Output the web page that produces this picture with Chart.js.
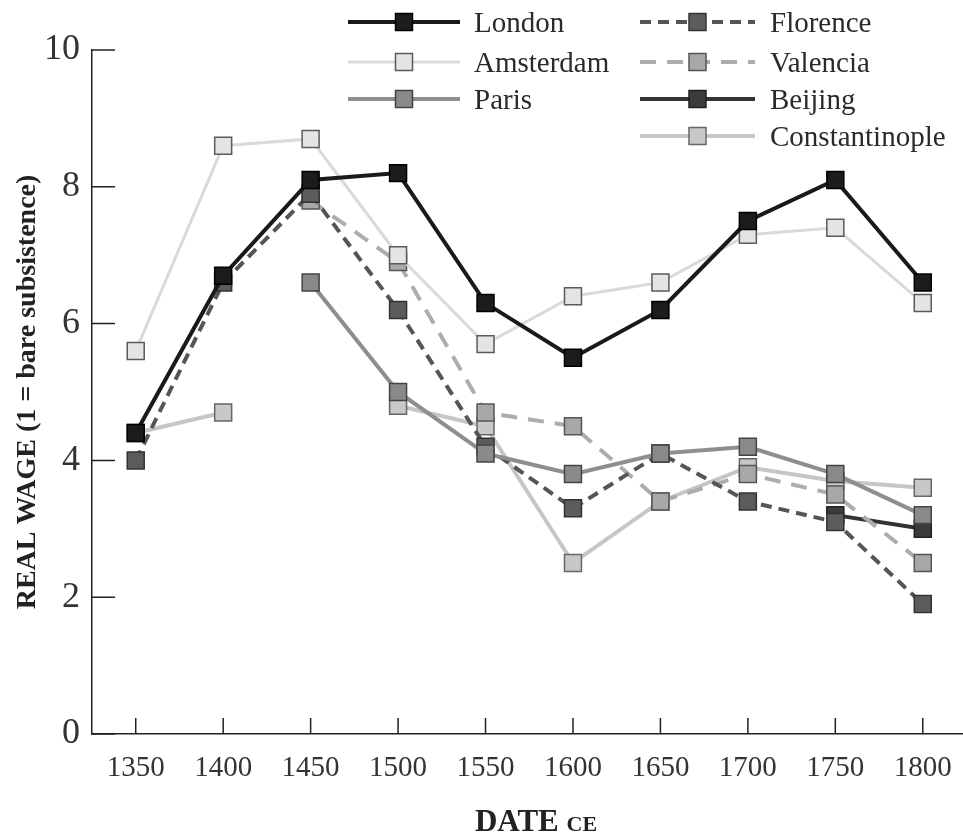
<!DOCTYPE html>
<html>
<head>
<meta charset="utf-8">
<script src="https://cdn.jsdelivr.net/npm/chart.js@4.4.1/dist/chart.umd.min.js"></script>
<style>
  html, body { margin: 0; padding: 0; background: #fff; }
</style>
</head>
<body>
<canvas id="wageChart" width="963" height="834"></canvas>
<script>
// Real wages of labourers, 1350-1800
const years = [1350, 1400, 1450, 1500, 1550, 1600, 1650, 1700, 1750, 1800];
const yTicks = [0, 2, 4, 6, 8, 10];

const london         = [4.4, 6.7, 8.1, 8.2, 6.3, 5.5, 6.2, 7.5, 8.1, 6.6];
const amsterdam      = [5.6, 8.6, 8.7, 7.0, 5.7, 6.4, 6.6, 7.3, 7.4, 6.3];
const paris          = [null, null, 6.6, 5.0, 4.1, 3.8, 4.1, 4.2, 3.8, 3.2];
const florence       = [4.0, 6.6, 7.9, 6.2, 4.2, 3.3, 4.1, 3.4, 3.1, 1.9];
const valencia       = [null, null, 7.8, 6.9, 4.7, 4.5, 3.4, 3.8, 3.5, 2.5];
const beijing        = [null, null, null, null, null, null, null, null, 3.2, 3.0];
const constantinople = [4.4, 4.7, null, 4.8, 4.5, 2.5, 3.4, 3.9, 3.7, 3.6];

const serif = '"Liberation Serif", "DejaVu Serif", serif';

function series(label, values, line, fill, edge, width, dash) {
  return {
    label: label,
    data: years.map((x, i) => ({ x: x, y: values[i] })),
    borderColor: line,
    borderWidth: width,
    borderDash: dash || [],
    pointStyle: 'rect',
    pointRadius: 12,
    pointHoverRadius: 12,
    pointBackgroundColor: fill,
    pointBorderColor: edge,
    pointBorderWidth: 1.5,
    tension: 0,
    spanGaps: false
  };
}

// legend slots: [column, row]
const legendSlots = [[0, 0], [0, 1], [0, 2], [1, 0], [1, 1], [1, 2], [1, 3]];

const legendPlugin = {
  id: 'boxLegend',
  afterDraw(chart) {
    const ctx = chart.ctx;
    const cols = [{ x0: 348, x1: 460, tx: 474 }, { x0: 640, x1: 755, tx: 770 }];
    const rows = [22, 62, 99, 136];
    ctx.save();
    chart.data.datasets.forEach((ds, i) => {
      const c = cols[legendSlots[i][0]];
      const y = rows[legendSlots[i][1]];
      ctx.strokeStyle = ds.borderColor;
      ctx.lineWidth = ds.borderWidth;
      ctx.setLineDash(ds.borderDash);
      ctx.beginPath();
      ctx.moveTo(c.x0, y);
      ctx.lineTo(c.x1, y);
      ctx.stroke();
      ctx.setLineDash([]);
      const mx = (c.x0 + c.x1) / 2;
      const s = 17;
      ctx.fillStyle = ds.pointBackgroundColor;
      ctx.fillRect(mx - s / 2, y - s / 2, s, s);
      ctx.strokeStyle = ds.pointBorderColor;
      ctx.lineWidth = 1.5;
      ctx.strokeRect(mx - s / 2, y - s / 2, s, s);
      ctx.fillStyle = '#2a2a2a';
      ctx.font = '29px ' + serif;
      ctx.textAlign = 'left';
      ctx.textBaseline = 'middle';
      ctx.fillText(ds.label, c.tx, y + 2);
    });
    ctx.restore();
  }
};

// tick marks point into the plot, and the axis titles
const axisPlugin = {
  id: 'axisDecor',
  beforeDatasetsDraw(chart) {
    const ctx = chart.ctx;
    const xs = chart.scales.x;
    const ys = chart.scales.y;
    const area = chart.chartArea;
    ctx.save();
    ctx.strokeStyle = '#222';
    ctx.lineWidth = 1.5;
    ctx.beginPath();
    yTicks.forEach(v => {
      const py = ys.getPixelForValue(v);
      ctx.moveTo(area.left, py);
      ctx.lineTo(area.left + 23, py);
    });
    years.forEach(v => {
      const px = xs.getPixelForValue(v);
      ctx.moveTo(px, area.bottom);
      ctx.lineTo(px, area.bottom - 16);
    });
    ctx.stroke();
    ctx.restore();
  },
  afterDraw(chart) {
    const ctx = chart.ctx;
    const area = chart.chartArea;
    ctx.save();
    ctx.fillStyle = '#222';
    ctx.textBaseline = 'middle';
    // y title
    ctx.translate(28, (area.top + area.bottom) / 2);
    ctx.rotate(-Math.PI / 2);
    ctx.textAlign = 'center';
    ctx.font = 'bold 28px ' + serif;
    ctx.fillText('REAL WAGE (1 = bare subsistence)', 0, 0);
    ctx.restore();

    // x title: DATE + small caps CE
    ctx.save();
    ctx.fillStyle = '#222';
    ctx.textBaseline = 'alphabetic';
    ctx.textAlign = 'left';
    const big = 'bold 31px ' + serif;
    const small = 'bold 22px ' + serif;
    ctx.font = big;
    const w1 = ctx.measureText('DATE ').width;
    ctx.font = small;
    const w2 = ctx.measureText('CE').width;
    const x0 = 536 - (w1 + w2) / 2;
    ctx.font = big;
    ctx.fillText('DATE ', x0, 831);
    ctx.font = small;
    ctx.fillText('CE', x0 + w1, 831);
    ctx.restore();
  }
};

new Chart(document.getElementById('wageChart'), {
  type: 'line',
  data: {
    datasets: [
      series('London', london, '#1a1a1a', '#1c1c1c', '#000', 4),
      series('Amsterdam', amsterdam, '#dadada', '#e4e4e4', '#5a5a5a', 3),
      series('Paris', paris, '#8e8e8e', '#8a8a8a', '#444', 4),
      series('Florence', florence, '#555', '#5c5c5c', '#333', 4, [11, 7]),
      series('Valencia', valencia, '#adadad', '#a8a8a8', '#555', 4, [16, 11]),
      series('Beijing', beijing, '#333', '#3c3c3c', '#222', 4),
      series('Constantinople', constantinople, '#c6c6c6', '#c8c8c8', '#666', 4)
    ]
  },
  options: {
    responsive: false,
    animation: false,
    devicePixelRatio: 1,
    layout: { autoPadding: false, padding: { top: 50, right: 0, left: 0, bottom: 0 } },
    plugins: {
      legend: { display: false },
      tooltip: { enabled: false }
    },
    scales: {
      x: {
        type: 'linear',
        min: 1325,
        max: 1823,
        afterFit: s => { s.height = 100; s.paddingLeft = 0; s.paddingRight = 0; },
        afterBuildTicks: s => { s.ticks = years.map(v => ({ value: v })); },
        grid: { display: false, drawTicks: false },
        border: { display: true, color: '#222', width: 1.5 },
        ticks: {
          padding: 17,
          color: '#333',
          font: { family: serif, size: 29 },
          maxRotation: 0,
          autoSkip: false,
          callback: v => String(v)
        }
      },
      y: {
        min: 0,
        max: 10,
        afterFit: s => { s.width = 92; s.paddingTop = 0; s.paddingBottom = 0; },
        afterBuildTicks: s => { s.ticks = yTicks.map(v => ({ value: v })); },
        grid: { display: false, drawTicks: false },
        border: { display: true, color: '#222', width: 1.5 },
        ticks: {
          padding: 12,
          color: '#333',
          font: { family: serif, size: 36 },
          callback: v => String(v)
        }
      }
    }
  },
  plugins: [axisPlugin, legendPlugin]
});
</script>
</body>
</html>
